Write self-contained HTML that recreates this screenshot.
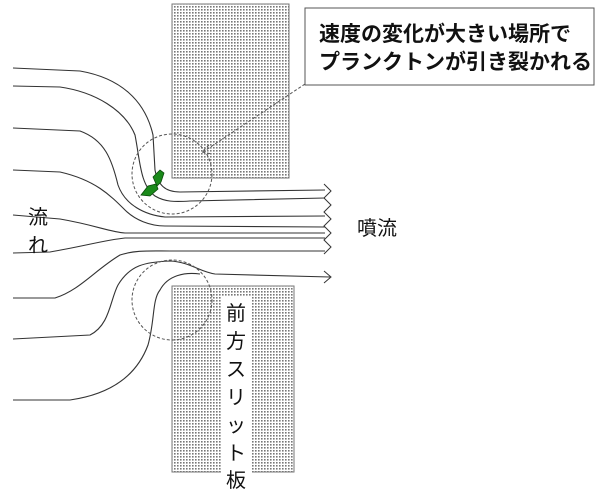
<!DOCTYPE html>
<html><head><meta charset="utf-8"><style>
html,body{margin:0;padding:0;background:#fff;}
svg{display:block;font-family:"Liberation Sans","Noto Sans CJK JP",sans-serif;}
</style></head><body>
<svg width="600" height="489" viewBox="0 0 600 489" xmlns="http://www.w3.org/2000/svg">
<defs>
<pattern id="dots" width="3" height="3" patternUnits="userSpaceOnUse">
<rect width="3" height="3" fill="#fff"/>
<rect x="0" y="0" width="1.6" height="1.6" fill="#777"/>
</pattern>
</defs>
<rect x="172" y="4" width="117" height="174" fill="url(#dots)" stroke="#777" stroke-width="1"/>
<rect x="172" y="286" width="122" height="186" fill="url(#dots)" stroke="#777" stroke-width="1"/>
<rect x="221" y="296" width="31" height="190" fill="#fff"/>
<g fill="none" stroke="#333" stroke-width="1.1">
<path d="M13,68 L80,71 C120,78 145,100 153,135 L155,170 C158,185 165,192 180,192 L325,190"/>
<path d="M13,86 L60,87 C95,92 125,110 135,135 C140,160 140,185 155,196 C165,202 175,202 190,201 L325,198"/>
<path d="M13,128 L80,131 C105,140 112,160 118,185 C125,205 145,215 165,217 L325,216"/>
<path d="M13,170 L60,172 C95,180 110,195 125,210 C135,220 150,226 165,226 L325,227"/>
<path d="M13,215 L60,219 C95,225 110,232 125,233 L325,233"/>
<path d="M13,253 L50,252 C85,246 105,240 125,238 L325,238"/>
<path d="M13,298 L55,298 C80,290 95,270 120,255 C135,250 150,251 170,251 L325,251"/>
<path d="M13,339 L90,335 C110,325 110,300 118,285 C130,265 145,262 170,261 C190,262 200,272 215,274 L330,277"/>
<path d="M13,400 L70,400 C105,395 135,380 148,345 C155,320 152,300 160,290 C168,275 185,272 200,274"/>
</g>
<g fill="none" stroke="#333" stroke-width="1">
<path d="M324,184 L331,191 L324,198 L331,205 L324,212 L331,219 L324,226 L331,233 L324,240 L331,247 L324,254"/>
<path d="M324,271 L331,277 L324,283"/>
</g>
<g fill="none" stroke="#555" stroke-width="1" stroke-dasharray="3,2">
<circle cx="172" cy="174" r="40"/>
<circle cx="172" cy="300" r="40"/>
<path d="M305,84 L203,152"/>
<path d="M209,145 L202,152 L212,154"/>
</g>
<path d="M153,177 L160,170 L164,173 L161,182 L157,186 Z" fill="#1a8a1a" stroke="#0a4a0a" stroke-width="0.8"/>
<path d="M141,195 L148,186 L156,184 L158,189 L150,196 Z" fill="#1a8a1a" stroke="#0a4a0a" stroke-width="0.8"/>
<rect x="305" y="8" width="289" height="77" fill="#fff" stroke="#555" stroke-width="1"/>
<g font-size="21" font-weight="bold" fill="#111">
<text x="319" y="41">速度の変化が大きい場所で</text>
<text x="319" y="69">プランクトンが引き裂かれる</text>
</g>
<g font-size="20" fill="#111">
<text x="28" y="224">流</text>
<text x="28" y="252">れ</text>
<text x="357" y="235">噴流</text>
<text x="226" y="320">前</text>
<text x="226" y="348">方</text>
<text x="226" y="376">ス</text>
<text x="226" y="404">リ</text>
<text x="226" y="432">ッ</text>
<text x="226" y="460">ト</text>
<text x="226" y="487">板</text>
</g>
</svg>
</body></html>
